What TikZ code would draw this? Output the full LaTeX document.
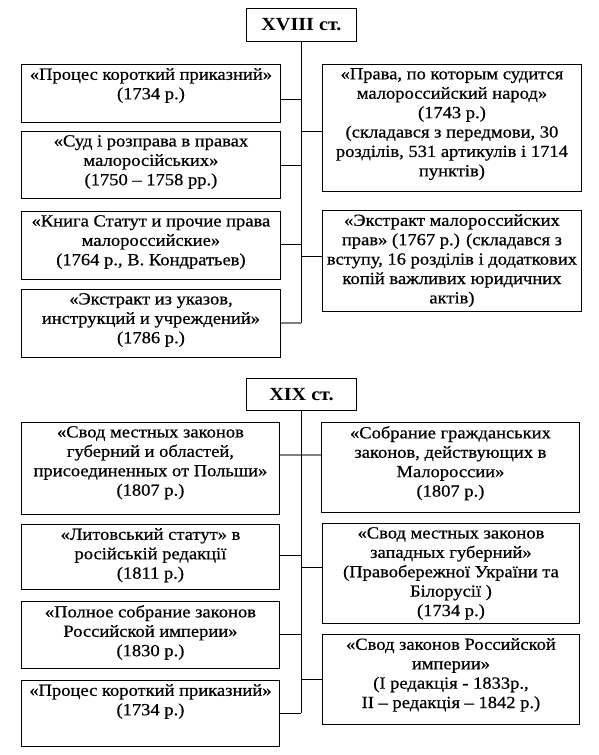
\documentclass[tikz,border=0pt]{standalone}
\usepackage{fontspec}
\setmainfont{Liberation Serif}[FakeStretch=1.09, UprightFeatures={FakeBold=0.6}]
\begin{document}
\begin{tikzpicture}[x=1pt,y=-1pt,
  box/.style={draw=black, line width=0.9pt, anchor=north west, inner sep=0pt, minimum width=#1},
  box/.default=259pt,
  txt/.style={anchor=north, align=center, inner sep=0pt, font=\fontsize{17}{19.4}\selectfont},
  ttl/.style={anchor=center, inner sep=0pt, font=\fontsize{18.5}{20}\selectfont\bfseries},
  conn/.style={draw=black, line width=0.9pt},
  gconn/.style={draw=black!50, line width=1.3pt}]
\useasboundingbox (0,0) rectangle (599,755);

% ---------------- XVIII ----------------
\node[box=110pt, minimum height=33pt] (t1) at (246,8) {};
\node[ttl] (t1t) at (t1.center) {XVIII ст.};

\node[box, minimum height=58pt] (l1) at (21,64) {};
\node[box, minimum height=67pt] (l2) at (21,131) {};
\node[box, minimum height=68pt] (l3) at (21,211) {};
\node[box, minimum height=68pt] (l4) at (21,289) {};
\node[box, minimum height=127pt] (r1) at (322,64) {};
\node[box, minimum height=101pt] (r2) at (322,210) {};

\node[txt] (l1t) at ([yshift=-4pt]l1.north) {«Процес короткий приказний»\\(1734 р.)};
\node[txt] (l2t) at ([yshift=-4pt]l2.north) {«Суд і розправа в правах\\малоросійських»\\(1750 – 1758 рр.)};
\node[txt] (l3t) at ([yshift=-4pt]l3.north) {«Книга Статут и прочие права\\малороссийские»\\(1764 р., В. Кондратьев)};
\node[txt] (l4t) at ([yshift=-4pt]l4.north) {«Экстракт из указов,\\инструкций и учреждений»\\(1786 р.)};
\node[txt] (r1t) at ([yshift=-4pt]r1.north) {«Права, по которым судится\\малороссийский народ»\\(1743 р.)\\(складався з передмови, 30\\розділів, 531 артикулів і 1714\\пунктів)};
\node[txt] (r2t) at ([yshift=-4pt]r2.north) {«Экстракт малороссийских\\прав» (1767 р.) (складався з\\вступу, 16 розділів і додаткових\\копій важливих юридичних\\актів)};

\coordinate (s1) at (301,323);
\coordinate (jl1) at (301,99);
\coordinate (jr1) at (301,131);
\coordinate (jl2) at (301,165);
\coordinate (jl3) at (301,244);
\coordinate (jr2) at (301,256);

\draw[conn] (t1.south -| s1) -- (s1);
\draw[conn] (l1.east |- jl1) -- (jl1);
\draw[conn] (jr1) -- (r1.west |- jr1);
\draw[conn] (l2.east |- jl2) -- (jl2);
\draw[conn] (l3.east |- jl3) -- (jl3);
\draw[conn] (jr2) -- (r2.west |- jr2);
\draw[gconn] (l4.east |- s1) -- (s1);

% ---------------- XIX ----------------
\node[box=110pt, minimum height=32pt] (t2) at (246,378) {};
\node[ttl] (t2t) at (t2.center) {XIX ст.};

\node[box=258pt, minimum height=92pt] (bl1) at (21,422) {};
\node[box=258pt, minimum height=65pt] (bl2) at (21,524) {};
\node[box=258pt, minimum height=67pt] (bl3) at (21,601) {};
\node[box=258pt, minimum height=66pt] (bl4) at (21,680) {};
\node[box=258pt, minimum height=90pt] (br1) at (321,422) {};
\node[box=257pt, minimum height=100pt] (br2) at (322,523) {};
\node[box=257pt, minimum height=90pt] (br3) at (322,634) {};

\node[txt] (bl1t) at ([yshift=-4pt]bl1.north) {«Свод местных законов\\губерний и областей,\\присоединенных от Польши»\\(1807 р.)};
\node[txt] (bl2t) at ([yshift=-4pt]bl2.north) {«Литовський статут» в\\російській редакції\\(1811 р.)};
\node[txt] (bl3t) at ([yshift=-4pt]bl3.north) {«Полное собрание законов\\Российской империи»\\(1830 р.)};
\node[txt] (bl4t) at ([yshift=-4pt]bl4.north) {«Процес короткий приказний»\\(1734 р.)};
\node[txt] (br1t) at ([yshift=-4pt]br1.north) {«Собрание гражданських\\законов, действующих в\\Малороссии»\\(1807 р.)};
\node[txt] (br2t) at ([yshift=-4pt]br2.north) {«Свод местных законов\\западных губерний»\\(Правобережної України та\\Білорусії )\\(1734 р.)};
\node[txt] (br3t) at ([yshift=-4pt]br3.north) {«Свод законов Российской\\империи»\\(І редакція - 1833р.,\\ІІ – редакція – 1842 р.)};

\coordinate (s2) at (301,713);
\coordinate (ja) at (301,455);
\coordinate (jbl2) at (301,555);
\coordinate (jbr2) at (301,567);
\coordinate (jbl3) at (301,634);
\coordinate (jbr3) at (301,679);

\draw[gconn] (bl1.east |- ja) -- (br1.west |- ja);
\draw[conn] (t2.south -| s2) -- (s2);
\draw[conn] (bl2.east |- jbl2) -- (jbl2);
\draw[conn] (jbr2) -- (br2.west |- jbr2);
\draw[conn] (bl3.east |- jbl3) -- (jbl3);
\draw[conn] (jbr3) -- (br3.west |- jbr3);
\draw[conn] (bl4.east |- s2) -- (s2);
\end{tikzpicture}
\end{document}
